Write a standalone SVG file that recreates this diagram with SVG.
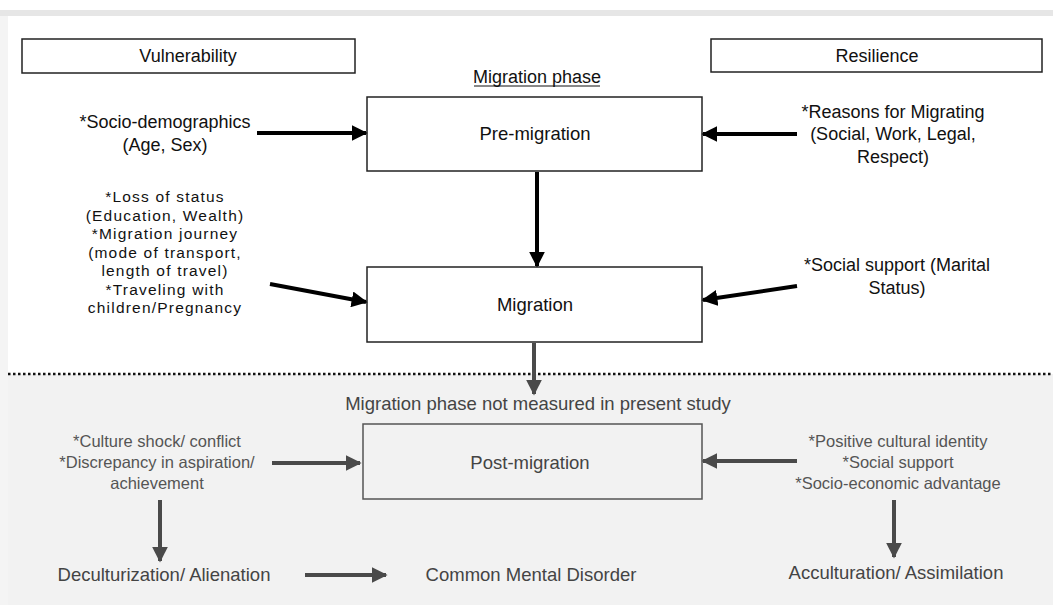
<svg xmlns="http://www.w3.org/2000/svg" width="1053" height="605" viewBox="0 0 1053 605">
<defs>
<style>
text{font-family:"Liberation Sans",Arial,sans-serif;text-anchor:middle}
.t{font-size:18px;fill:#111}
.tl{font-size:18.5px;fill:#111}
.ts{font-size:15.5px;letter-spacing:1.2px;fill:#111}
.g{font-size:16.5px;fill:#555}
.gl{font-size:18.5px;fill:#444}
.box{fill:none;stroke:#222;stroke-width:1.5}
.gbox{fill:none;stroke:#555;stroke-width:1.5}
.a{stroke:#000;stroke-width:4;fill:none;marker-end:url(#ab)}
.ag{stroke:#4a4a4a;stroke-width:4;fill:none;marker-end:url(#ag)}
</style>
<marker id="ab" markerWidth="4" markerHeight="4" refX="3.6" refY="2" orient="auto" markerUnits="strokeWidth"><path d="M0,0 L4,2 L0,4 Z" fill="#000"/></marker>
<marker id="ag" markerWidth="4" markerHeight="4" refX="3.6" refY="2" orient="auto" markerUnits="strokeWidth"><path d="M0,0 L4,2 L0,4 Z" fill="#4a4a4a"/></marker>
</defs>
<rect x="0" y="0" width="1053" height="605" fill="#ffffff"/>
<rect x="0" y="10" width="1053" height="6" fill="#e6e6e6"/>
<rect x="0" y="16" width="8" height="589" fill="#f4f4f4"/>
<rect x="8" y="374" width="1045" height="231" fill="#f2f2f2"/>
<line x1="8" y1="374" x2="1053" y2="374" stroke="#111" stroke-width="2.5" stroke-dasharray="2.5,2.5"/>

<g id="vulnerability"><rect class="box" x="22" y="39" width="333" height="34"/><text class="t" x="188" y="62">Vulnerability</text></g>
<g id="resilience"><rect class="box" x="711" y="39" width="331" height="33"/><text class="t" x="877" y="62">Resilience</text></g>
<g id="phase-label"><text class="t" x="537" y="83">Migration phase</text><line x1="474" y1="86" x2="600" y2="86" stroke="#111" stroke-width="1"/></g>

<g id="pre-migration"><rect class="box" x="367" y="97" width="335" height="74"/><text class="tl" x="535" y="140">Pre-migration</text></g>
<g id="migration"><rect class="box" x="367" y="267" width="335" height="75"/><text class="tl" x="535" y="311">Migration</text></g>
<g id="post-migration"><rect class="gbox" x="363" y="424" width="339" height="75"/><text class="gl" x="530" y="469">Post-migration</text></g>

<g id="socio-demo"><text class="t" x="165" y="128">*Socio-demographics</text><text class="t" x="165" y="151">(Age, Sex)</text></g>
<g id="loss-status">
<text class="ts" x="165" y="202">*Loss of status</text>
<text class="ts" x="165" y="220.5">(Education, Wealth)</text>
<text class="ts" x="165" y="239">*Migration journey</text>
<text class="ts" x="165" y="257.5">(mode of transport,</text>
<text class="ts" x="165" y="276">length of travel)</text>
<text class="ts" x="165" y="294.5">*Traveling with</text>
<text class="ts" x="165" y="313">children/Pregnancy</text>
</g>
<g id="reasons"><text class="t" x="893" y="118">*Reasons for Migrating</text><text class="t" x="893" y="140">(Social, Work, Legal,</text><text class="t" x="893" y="163">Respect)</text></g>
<g id="social-support"><text class="t" x="897" y="271">*Social support (Marital</text><text class="t" x="897" y="294">Status)</text></g>

<g id="not-measured"><text class="gl" x="538" y="410">Migration phase not measured in present study</text></g>
<g id="culture-shock"><text class="g" x="157" y="447">*Culture shock/ conflict</text><text class="g" x="157" y="468">*Discrepancy in aspiration/</text><text class="g" x="157" y="489">achievement</text></g>
<g id="positive"><text class="g" x="898" y="447">*Positive cultural identity</text><text class="g" x="898" y="468">*Social support</text><text class="g" x="898" y="489">*Socio-economic advantage</text></g>
<g id="deculturization"><text class="gl" x="164" y="581">Deculturization/ Alienation</text></g>
<g id="cmd"><text class="gl" x="531" y="581">Common Mental Disorder</text></g>
<g id="acculturation"><text class="gl" x="896" y="579">Acculturation/ Assimilation</text></g>

<g id="connectors">
<line class="a" x1="257" y1="133" x2="366" y2="133"/>
<line class="a" x1="797" y1="134" x2="703" y2="134"/>
<line class="a" x1="537" y1="172" x2="537" y2="266"/>
<line class="a" x1="270" y1="284" x2="366" y2="302"/>
<line class="a" x1="797" y1="286" x2="703" y2="300"/>
<line class="ag" x1="534" y1="343" x2="534" y2="394"/>
<line class="ag" x1="272" y1="463" x2="360" y2="463"/>
<line class="ag" x1="797" y1="461" x2="703" y2="461"/>
<line class="ag" x1="160" y1="500" x2="160" y2="561"/>
<line class="ag" x1="305" y1="575" x2="386" y2="575"/>
<line class="ag" x1="894" y1="500" x2="894" y2="557"/>
</g>
</svg>
